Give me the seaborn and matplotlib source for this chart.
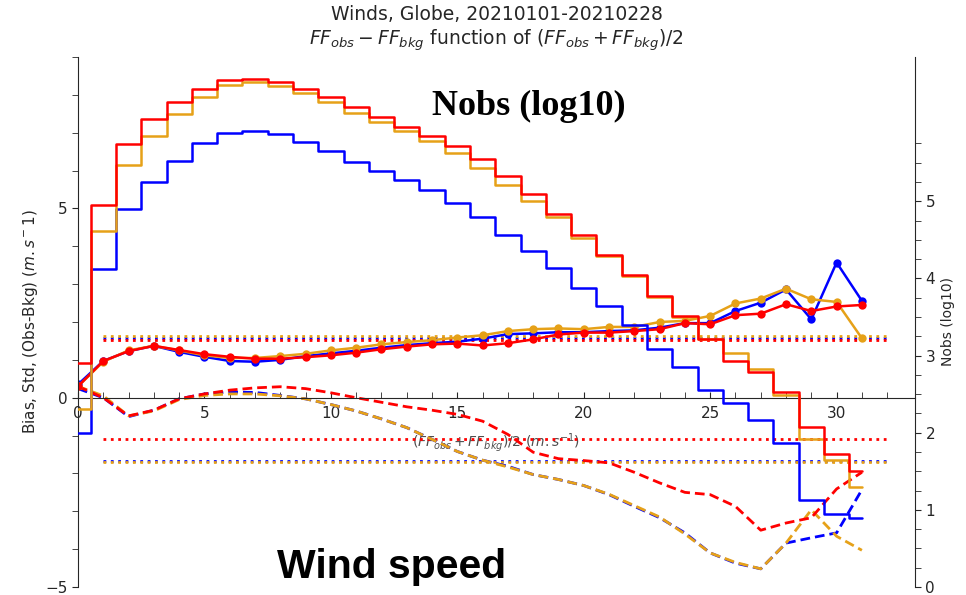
import numpy as np
import matplotlib
matplotlib.use('Agg')
import matplotlib.pyplot as plt
import seaborn as sns

# wind speed bins (m/s)
ff = list(range(32))

# number of obs per bin (log10)
nobs_blue = [2.0, 4.12, 4.9, 5.25, 5.52, 5.75, 5.88, 5.91, 5.87, 5.77, 5.65, 5.51, 5.39, 5.27, 5.14, 4.98,
             4.79, 4.56, 4.35, 4.13, 3.88, 3.64, 3.39, 3.09, 2.85, 2.55, 2.38, 2.16, 1.87, 1.13, 0.95, 0.90]
nobs_orange = [2.31, 4.62, 5.47, 5.85, 6.13, 6.35, 6.51, 6.54, 6.50, 6.40, 6.29, 6.15, 6.03, 5.91, 5.78, 5.62,
               5.43, 5.21, 5.00, 4.79, 4.53, 4.29, 4.03, 3.76, 3.50, 3.22, 3.03, 2.83, 2.49, 1.92, 1.64, 1.30]
nobs_red = [2.9, 4.95, 5.74, 6.07, 6.29, 6.46, 6.57, 6.58, 6.54, 6.46, 6.35, 6.22, 6.09, 5.96, 5.84, 5.71,
            5.55, 5.33, 5.09, 4.84, 4.56, 4.30, 4.04, 3.77, 3.51, 3.22, 2.93, 2.79, 2.53, 2.08, 1.73, 1.50]

# std of obs-bkg
std_blue = [0.35, 0.97, 1.23, 1.37, 1.21, 1.08, 0.97, 0.95, 1.0, 1.1, 1.17, 1.24, 1.32, 1.39, 1.44, 1.48,
            1.56, 1.68, 1.70, 1.73, 1.73, 1.76, 1.78, 1.85, 1.97, 1.97, 2.29, 2.51, 2.86, 2.07, 3.57, 2.56]
std_orange = [0.3, 0.95, 1.25, 1.37, 1.25, 1.12, 1.05, 1.05, 1.1, 1.16, 1.25, 1.32, 1.41, 1.47, 1.52, 1.59,
              1.65, 1.76, 1.81, 1.83, 1.81, 1.87, 1.87, 2.0, 2.03, 2.16, 2.49, 2.62, 2.88, 2.6, 2.53, 1.57]
std_red = [0.3, 0.97, 1.23, 1.37, 1.26, 1.15, 1.08, 1.03, 1.03, 1.07, 1.12, 1.19, 1.28, 1.35, 1.41, 1.43,
           1.38, 1.44, 1.54, 1.67, 1.72, 1.72, 1.76, 1.81, 1.97, 1.94, 2.18, 2.22, 2.47, 2.29, 2.41, 2.45]

# bias of obs-bkg
bias_blue = [0.24, 0.0, -0.5, -0.33, -0.03, 0.1, 0.15, 0.14, 0.06, -0.03, -0.18, -0.35, -0.56, -0.79, -1.1, -1.42,
             -1.65, -1.81, -2.03, -2.16, -2.32, -2.56, -2.87, -3.17, -3.57, -4.1, -4.37, -4.52, -3.84, -3.7, -3.57, -2.43]
bias_orange = [0.3, 0.05, -0.48, -0.35, -0.05, 0.06, 0.1, 0.1, 0.05, -0.03, -0.18, -0.35, -0.56, -0.79, -1.1, -1.42,
               -1.65, -1.83, -2.03, -2.16, -2.32, -2.55, -2.85, -3.15, -3.6, -4.1, -4.35, -4.52, -3.84, -2.96, -3.66, -4.03]
bias_red = [0.3, 0.0, -0.48, -0.33, -0.03, 0.1, 0.2, 0.26, 0.29, 0.24, 0.13, 0.0, -0.12, -0.24, -0.33, -0.44,
            -0.62, -0.97, -1.44, -1.61, -1.66, -1.72, -1.97, -2.25, -2.50, -2.56, -2.87, -3.50, -3.31, -3.17, -2.41, -1.97]

# global means (dotted lines)
std_mean = {'blue': 1.58, 'orange': 1.63, 'red': 1.52}
bias_mean = {'blue': -1.67, 'orange': -1.69, 'red': -1.10}
mean_x = [1, 32]

BLUE = '#0000ff'
ORANGE = '#e6a118'
RED = '#ff0000'

sns.set_style('ticks')
plt.rcParams['font.family'] = ['DejaVu Sans']
plt.rcParams['mathtext.fontset'] = 'dejavusans'

fig = plt.figure(figsize=(9.66, 5.95), dpi=100)
ax = fig.add_axes([78 / 966, 1 - 587 / 595, (915 - 78) / 966, (587 - 57) / 595])
ax2 = ax.twinx()

series = [(BLUE, 'blue', nobs_blue, std_blue, bias_blue),
          (ORANGE, 'orange', nobs_orange, std_orange, bias_orange),
          (RED, 'red', nobs_red, std_red, bias_red)]

for col, key, nobs, std, bias in series:
    ax.hlines(std_mean[key], mean_x[0], mean_x[1], colors=col, linestyles=':', lw=2)
    ax.hlines(bias_mean[key], mean_x[0], mean_x[1], colors=col, linestyles=':', lw=2)

for col, key, nobs, std, bias in series:
    sns.lineplot(x=ff, y=bias, ax=ax, color=col, linewidth=2.0, dashes=False,
                 linestyle=(0, (3.5, 1.8)))

for col, key, nobs, std, bias in series:
    sns.lineplot(x=ff, y=std, ax=ax, color=col, linewidth=1.8, marker='o', markersize=6,
                 markeredgewidth=0)

for col, key, nobs, std, bias in series:
    sns.lineplot(x=ff, y=nobs, ax=ax2, color=col, linewidth=1.8, drawstyle='steps-mid')

ax.set_xlim(0, 33.1)
ax.set_ylim(-5, 9)
ax.set_xticks(range(0, 31, 5))
ax.set_xticks(range(0, 33), minor=True)
ax.set_yticks([-5, 0, 5])
ax.set_yticks(range(-5, 10), minor=True)
ax.tick_params(axis='x', which='both', direction='in', length=4, labelsize=11, pad=6)
ax.tick_params(axis='y', which='both', direction='out', length=4, labelsize=11)
ax.spines['bottom'].set_position(('data', 0))
ax.spines['top'].set_visible(False)
ax.spines['right'].set_visible(False)

ax2.set_ylim(0, 6.87)
ax2.set_yticks(range(6))
ax2.set_yticks(np.arange(0, 6, 0.25), minor=True)
ax2.tick_params(axis='y', which='both', direction='out', length=4, labelsize=11)
for s in ['top', 'bottom', 'left']:
    ax2.spines[s].set_visible(False)

ax.set_xlabel(r'$(FF_{obs}+FF_{bkg})/2\ (m.s^{-1})$', fontsize=10, color='.3', labelpad=7)
ax.set_ylabel('Bias, Std, (Obs-Bkg) $(m.s^-1)$', fontsize=11)
ax2.set_ylabel('Nobs (log10)', fontsize=10)
ax.set_title('Winds, Globe, 20210101-20210228\n'
             r'$FF_{obs} - FF_{bkg}$ function of $(FF_{obs} + FF_{bkg})/2$', fontsize=13.5, pad=9)

fig.text(0.547, 0.807, 'Nobs (log10)', family='Liberation Serif', weight='bold',
         fontsize=26, ha='center', va='baseline', color='black')
fig.text(0.405, 0.029, 'Wind speed', family='Liberation Sans', weight='bold',
         fontsize=29.5, ha='center', va='baseline', color='black')

fig.savefig('out.png', dpi=100)
